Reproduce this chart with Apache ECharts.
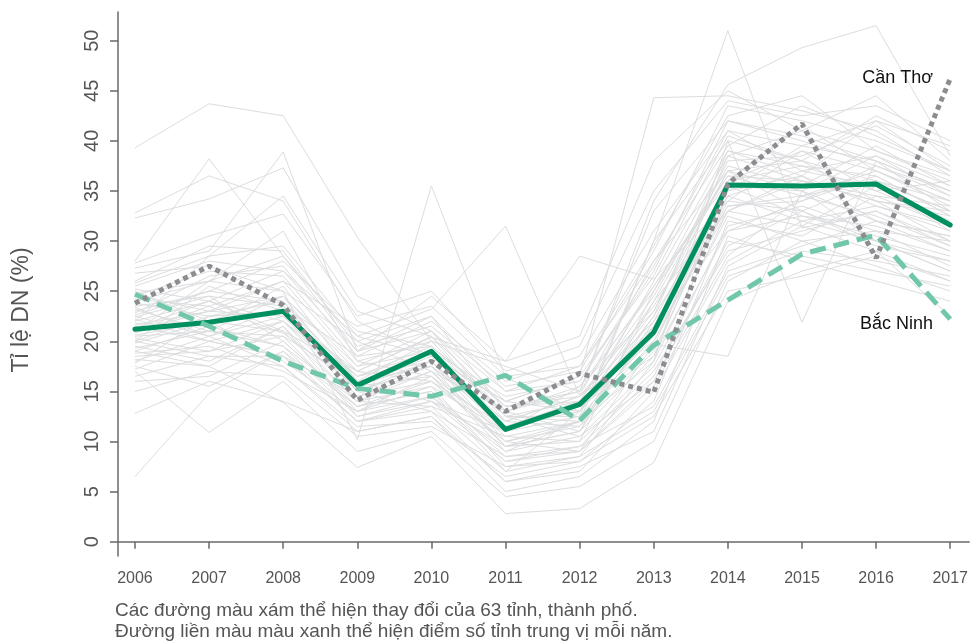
<!DOCTYPE html>
<html>
<head>
<meta charset="utf-8">
<script src="https://cdn.jsdelivr.net/npm/echarts@6/dist/echarts.min.js"></script>
<style>
html,body{margin:0;padding:0;background:#fff;}
#chart{width:971px;height:643px;}
</style>
</head>
<body>
<div id="chart"></div>
<script>
const years = [2006,2007,2008,2009,2010,2011,2012,2013,2014,2015,2016,2017];
const yTicks = [0,5,10,15,20,25,30,35,40,45,50];

const medianValues = [21.2, 21.9, 23.0, 15.6, 19.0, 11.2, 13.7, 20.9, 35.6, 35.5, 35.7, 31.6];
const bacNinhValues = [24.7, 21.5, 18.0, 15.3, 14.5, 16.6, 12.1, 19.6, 24.1, 28.7, 30.6, 22.2];
const canThoValues = [23.8, 27.5, 23.6, 14.1, 18.0, 13.0, 16.8, 14.9, 35.7, 41.7, 28.3, 46.2];

const otherProvinces = [
  [39.3, 43.7, 42.5, 30.4, 20.0, 17.5, 15.0, 33.0, 42.0, 40.5, 38.0, 35.0],
  [32.8, 36.5, 34.0, 22.0, 18.5, 14.0, 16.5, 44.3, 44.5, 43.0, 41.0, 36.5],
  [32.3, 34.2, 37.3, 24.5, 21.0, 12.5, 12.0, 30.0, 40.0, 38.0, 42.5, 39.0],
  [28.0, 38.2, 28.5, 20.0, 17.0, 9.5, 10.0, 25.0, 38.5, 36.0, 34.0, 30.0],
  [27.3, 29.0, 38.9, 19.0, 22.5, 13.0, 11.0, 22.0, 36.0, 41.5, 37.0, 33.5],
  [24.0, 26.0, 25.0, 10.2, 35.5, 16.4, 13.0, 24.0, 33.0, 36.5, 32.0, 29.0],
  [25.5, 28.0, 27.0, 20.5, 23.2, 31.5, 14.6, 28.0, 37.0, 33.0, 36.0, 34.0],
  [22.0, 24.0, 21.0, 17.0, 20.4, 18.0, 28.5, 26.2, 34.0, 39.0, 35.0, 32.0],
  [20.0, 22.5, 24.0, 16.0, 14.0, 11.0, 12.5, 30.0, 51.0, 31.3, 33.0, 30.0],
  [23.0, 25.0, 28.0, 21.0, 19.5, 13.5, 15.0, 34.0, 45.6, 49.3, 51.5, 38.5],
  [21.5, 20.0, 22.0, 14.5, 16.0, 10.0, 9.0, 19.7, 18.5, 35.0, 30.0, 28.0],
  [18.5, 19.0, 20.5, 13.0, 15.5, 7.5, 8.5, 18.0, 40.0, 21.9, 38.0, 33.0],
  [6.5, 14.8, 19.0, 12.0, 13.0, 6.0, 7.0, 15.0, 28.0, 32.0, 30.0, 27.0],
  [12.8, 16.0, 14.0, 11.0, 12.5, 5.0, 6.5, 12.0, 30.5, 28.0, 26.0, 24.0],
  [17.0, 10.9, 16.0, 9.0, 11.0, 4.5, 5.5, 10.0, 26.0, 30.0, 27.5, 25.0],
  [19.0, 17.5, 13.9, 7.4, 10.5, 2.8, 3.3, 7.9, 24.0, 27.0, 29.0, 22.5],
  [20.5, 21.0, 19.5, 12.5, 14.5, 8.0, 9.5, 16.5, 31.5, 33.5, 31.0, 27.5],
  [21.0, 23.0, 22.5, 15.0, 17.5, 12.0, 11.5, 21.5, 35.0, 36.5, 33.5, 31.0],
  [22.5, 20.5, 23.5, 16.5, 18.0, 11.5, 14.0, 24.5, 37.5, 35.5, 39.5, 35.5],
  [24.5, 27.0, 26.5, 18.0, 16.5, 9.0, 12.0, 20.0, 33.5, 34.0, 36.5, 32.5],
  [19.5, 18.0, 21.5, 14.0, 13.5, 10.5, 10.0, 17.0, 29.0, 31.0, 33.0, 29.5],
  [23.5, 24.5, 20.0, 13.5, 15.0, 7.0, 13.0, 22.5, 39.0, 37.5, 35.0, 36.0],
  [25.0, 22.0, 24.5, 17.5, 19.0, 14.5, 16.0, 27.0, 42.0, 40.0, 37.5, 34.5],
  [18.0, 20.5, 17.5, 11.5, 12.0, 6.5, 8.0, 14.0, 32.0, 30.5, 34.5, 31.5],
  [26.0, 29.5, 29.0, 19.5, 21.5, 15.5, 17.0, 29.0, 43.5, 42.0, 40.0, 37.0],
  [16.5, 18.5, 18.5, 12.0, 14.0, 9.5, 11.0, 18.5, 35.5, 32.5, 30.5, 28.5],
  [20.0, 25.5, 23.0, 15.5, 16.5, 11.0, 13.5, 23.0, 38.0, 38.5, 41.5, 37.5],
  [21.8, 21.5, 25.5, 16.0, 20.0, 12.5, 12.5, 20.5, 33.0, 36.0, 34.0, 33.0],
  [17.5, 15.5, 19.0, 13.5, 15.0, 8.5, 9.5, 13.5, 27.0, 29.5, 32.0, 30.5],
  [22.8, 26.5, 27.5, 18.5, 22.0, 16.0, 18.5, 31.0, 41.0, 39.5, 42.0, 39.5],
  [19.8, 22.0, 21.0, 14.0, 17.0, 13.0, 15.0, 25.5, 36.5, 34.5, 37.0, 34.0],
  [24.2, 23.5, 20.8, 15.5, 18.0, 10.0, 11.5, 19.0, 34.5, 37.0, 35.5, 31.0],
  [15.0, 17.0, 16.5, 10.5, 11.5, 7.5, 8.0, 12.5, 25.0, 26.5, 28.5, 26.0],
  [27.8, 30.5, 32.7, 22.5, 25.0, 17.0, 19.5, 35.0, 44.0, 42.5, 43.5, 40.0],
  [21.3, 24.0, 22.0, 16.5, 19.5, 13.5, 14.5, 22.0, 31.0, 32.5, 31.5, 29.0],
  [23.2, 21.0, 24.5, 17.0, 16.0, 11.5, 13.0, 21.0, 38.5, 41.0, 39.0, 36.0],
  [18.8, 19.5, 17.0, 13.0, 14.5, 9.0, 10.5, 16.0, 30.0, 28.5, 27.0, 25.5],
  [20.8, 23.5, 26.0, 17.5, 21.0, 14.0, 16.5, 26.5, 40.5, 38.0, 36.0, 33.0],
  [25.8, 28.5, 34.5, 23.0, 20.5, 12.0, 14.5, 23.5, 35.0, 39.5, 38.0, 35.0],
  [22.2, 20.0, 18.5, 14.5, 17.0, 10.5, 12.0, 18.0, 33.0, 31.5, 35.5, 32.0],
  [17.8, 22.5, 23.0, 15.0, 13.0, 8.5, 9.0, 15.5, 28.5, 34.5, 32.5, 29.5],
  [24.8, 26.0, 28.5, 19.0, 24.5, 18.0, 20.5, 38.0, 45.0, 41.0, 44.5, 38.0],
  [20.3, 19.0, 22.0, 15.5, 18.5, 12.0, 14.5, 20.0, 34.0, 33.0, 29.5, 28.0],
  [22.6, 25.0, 24.0, 16.0, 17.5, 9.5, 11.0, 24.0, 37.0, 35.0, 38.5, 34.5],
  [16.0, 16.5, 20.0, 13.5, 16.0, 10.0, 12.0, 21.0, 36.0, 37.5, 36.5, 32.5],
  [26.8, 27.5, 25.0, 20.0, 22.5, 15.0, 17.5, 28.0, 39.5, 43.5, 40.5, 37.0],
  [19.0, 21.5, 19.5, 14.0, 15.5, 11.0, 13.5, 18.5, 32.5, 30.0, 31.0, 30.0],
  [23.8, 22.5, 23.0, 16.5, 19.0, 13.0, 15.5, 25.0, 36.5, 36.0, 34.5, 33.5],
  [21.0, 26.0, 31.0, 18.0, 20.0, 12.5, 10.5, 17.5, 31.0, 34.0, 37.5, 35.0],
  [18.2, 17.5, 21.5, 12.5, 14.0, 8.0, 9.0, 16.0, 29.5, 33.0, 30.0, 27.0],
  [24.6, 23.0, 26.0, 21.5, 23.5, 16.5, 17.5, 29.5, 42.5, 44.5, 39.0, 36.5],
  [20.6, 22.0, 18.0, 13.0, 16.5, 9.5, 12.0, 22.5, 34.5, 32.0, 33.5, 31.5],
  [22.0, 28.5, 29.5, 20.5, 18.5, 14.0, 13.0, 26.0, 39.0, 36.5, 42.0, 37.0],
  [19.3, 21.0, 20.5, 16.0, 17.5, 11.5, 13.5, 19.5, 35.5, 35.0, 32.0, 30.5],
  [25.2, 24.0, 27.0, 19.0, 21.0, 15.0, 16.0, 27.5, 41.0, 37.0, 38.5, 35.5],
  [17.2, 20.0, 18.5, 12.0, 13.5, 7.0, 8.5, 13.0, 26.5, 29.0, 28.0, 26.5],
  [21.6, 23.0, 24.5, 15.0, 18.0, 11.0, 15.5, 23.0, 37.0, 38.0, 34.0, 32.5],
  [23.4, 20.5, 22.5, 17.0, 20.5, 13.5, 14.0, 21.5, 33.5, 34.5, 36.0, 33.0],
  [20.0, 18.5, 17.5, 11.0, 12.5, 6.0, 7.5, 11.0, 27.5, 31.5, 29.0, 26.0],
  [22.4, 24.5, 23.5, 18.5, 19.5, 12.5, 14.0, 25.5, 36.0, 39.0, 37.0, 34.0]
];

const yAxisTitle = 'Tỉ lệ DN (%)';
const captionLines = [
  'Các đường màu xám thể hiện thay đổi của 63 tỉnh, thành phố.',
  'Đường liền màu màu xanh thể hiện điểm số tỉnh trung vị mỗi năm.'
];
const labelCanTho = 'Cần Thơ';
const labelBacNinh = 'Bắc Ninh';

const FONT = '"Liberation Sans", Arial, Helvetica, sans-serif';
const toPairs = vals => years.map((y, i) => [y, vals[i]]);

const series = [];
otherProvinces.forEach((vals, idx) => {
  series.push({
    type: 'line', name: 'p' + idx, data: toPairs(vals),
    symbol: 'none', silent: true, z: 1,
    lineStyle: { color: '#dcdddf', width: 1 }
  });
});
series.push({
  type: 'line', name: 'median', data: toPairs(medianValues),
  symbol: 'none', silent: true, z: 3,
  lineStyle: { color: '#008f5e', width: 5, cap: 'round', join: 'round' }
});
series.push({
  type: 'line', name: 'bacninh', data: toPairs(bacNinhValues),
  symbol: 'none', silent: true, z: 4,
  lineStyle: { color: '#70c7a9', width: 5, type: [16, 8], cap: 'butt' }
});
series.push({
  type: 'line', name: 'cantho', data: toPairs(canThoValues),
  symbol: 'none', silent: true, z: 5,
  lineStyle: { color: '#8d8d91', width: 5, type: [5, 4], cap: 'butt' }
});

const chart = echarts.init(document.getElementById('chart'), null, { renderer: 'canvas' });
chart.setOption({
  animation: false,
  backgroundColor: '#ffffff',
  textStyle: { fontFamily: FONT },
  grid: { left: 118, right: 0, top: 12, bottom: 87, containLabel: false },
  xAxis: {
    type: 'value', min: 2005.771, max: 2017.256,
    splitLine: { show: false },
    axisLine: { show: true, lineStyle: { color: '#6a6a6a', width: 1.5 } },
    axisTick: { show: true, customValues: years, length: 7, lineStyle: { color: '#6a6a6a', width: 1.5 } },
    axisLabel: { customValues: years, margin: 15, color: '#555', fontSize: 16, fontFamily: FONT, formatter: v => String(v) }
  },
  yAxis: {
    type: 'value', min: -1.43, max: 52.86,
    splitLine: { show: false },
    axisLine: { show: true, lineStyle: { color: '#6a6a6a', width: 1.5 } },
    axisTick: { show: true, customValues: yTicks, length: 8, lineStyle: { color: '#6a6a6a', width: 1.5 } },
    axisLabel: { customValues: yTicks, rotate: 90, margin: 16, color: '#555', fontSize: 20, fontFamily: FONT, formatter: v => String(v) }
  },
  graphic: [
    { type: 'text', x: 22, y: 310, rotation: Math.PI / 2,
      style: { text: yAxisTitle, fill: '#555', font: '23px ' + FONT, textAlign: 'center', textVerticalAlign: 'middle' } },
    { type: 'text', x: 115, y: 611,
      style: { text: captionLines[0], fill: '#555', font: '19px ' + FONT, textAlign: 'left', textVerticalAlign: 'middle' } },
    { type: 'text', x: 115, y: 632,
      style: { text: captionLines[1], fill: '#555', font: '19px ' + FONT, textAlign: 'left', textVerticalAlign: 'middle' } },
    { type: 'text', x: 933, y: 78, z: 10,
      style: { text: labelCanTho, fill: '#111', font: '18px ' + FONT, textAlign: 'right', textVerticalAlign: 'middle' } },
    { type: 'text', x: 933, y: 324, z: 10,
      style: { text: labelBacNinh, fill: '#111', font: '18px ' + FONT, textAlign: 'right', textVerticalAlign: 'middle' } }
  ],
  series: series
});
</script>
</body>
</html>
